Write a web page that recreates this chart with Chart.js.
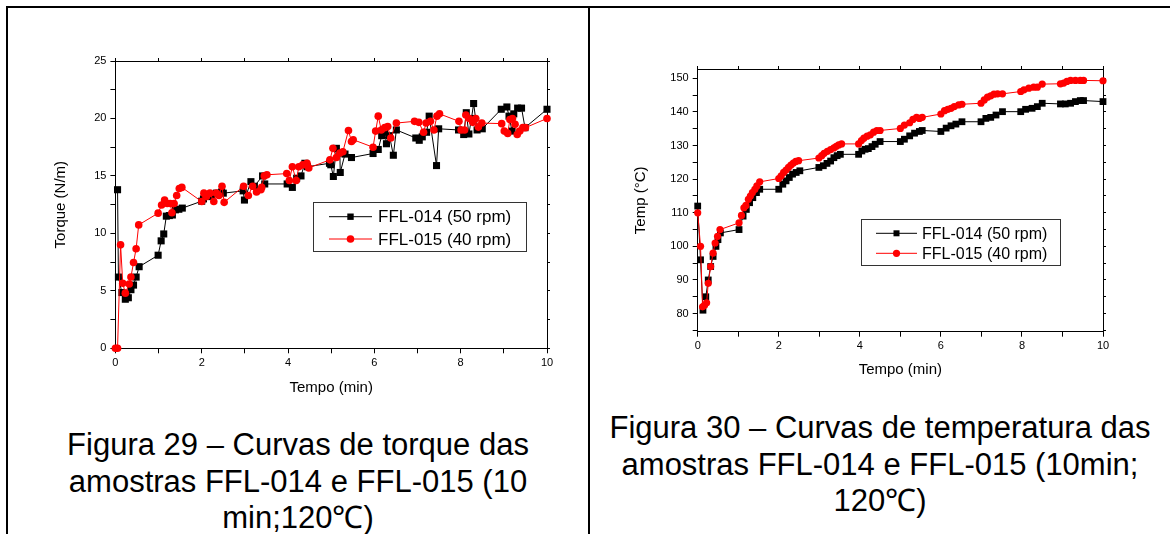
<!DOCTYPE html>
<html>
<head>
<meta charset="utf-8">
<script src="https://cdn.jsdelivr.net/npm/chart.js@4.4.0/dist/chart.umd.min.js"></script>
<style>
  body { margin: 0; background: #fff; width: 1170px; height: 534px; overflow: hidden; position: relative;
         font-family: Arial, "Liberation Sans", sans-serif; color: #000; }
  canvas { position: absolute; }
  .rule { position: absolute; background: #000; z-index: 5; }
  .cap { position: absolute; text-align: center; font-size: 31px; line-height: 36.5px; }
</style>
</head>
<body>
<canvas id="torque" width="588" height="420" style="left:0;top:0;width:588px;height:420px"></canvas>
<canvas id="temp" width="580" height="400" style="left:590px;top:0;width:580px;height:400px"></canvas>

<div class="rule" style="left:6px;top:6px;width:1164px;height:2px"></div>
<div class="rule" style="left:6px;top:6px;width:2px;height:528px"></div>
<div class="rule" style="left:588px;top:6px;width:2px;height:528px"></div>

<div class="cap" style="left:8px;width:580px;top:427px">Figura 29 – Curvas de torque das<br>amostras FFL-014 e FFL-015 (10<br>min;120℃)</div>
<div class="cap" style="left:590px;width:580px;top:410px">Figura 30 – Curvas de temperatura das<br>amostras FFL-014 e FFL-015 (10min;<br>120℃)</div>

<script>
// series labels
const seriesLabels = ['FFL-014 (50 rpm)', 'FFL-015 (40 rpm)'];

// Figura 29 - torque (N/m) vs tempo (min)
const torqueTime014 = [0.05, 0.07, 0.15, 0.23, 0.3, 0.36, 0.42, 0.48, 0.55, 0.99, 1.06, 1.12, 1.18, 1.25, 1.32, 1.39, 1.47, 1.55,
  2.0, 2.04, 2.11, 2.23, 2.34, 2.46, 2.5, 2.96, 2.99, 3.14, 3.22, 3.41, 3.46, 3.98, 4.1, 4.2, 4.3, 4.39, 4.45, 4.96, 4.99,
  5.05, 5.12, 5.2, 5.21, 5.32, 5.47, 5.97, 6.09, 6.17, 6.24, 6.28, 6.35, 6.44, 6.51, 6.96, 7.04, 7.11, 7.21, 7.27, 7.44, 7.49,
  7.95, 8.07, 8.13, 8.19, 8.25, 8.3, 8.38, 8.5, 8.94, 9.07, 9.12, 9.19, 9.23, 9.32, 9.41, 9.49, 10.0];
const torque014 = [13.8, 6.2, 4.85, 4.27, 4.4, 5.1, 5.5, 6.2, 7.1, 8.1, 9.35, 9.95, 11.5, 11.55, 11.6, 12.05, 12.1, 12.2,
  12.8, 13.0, 13.3, 13.2, 13.5, 13.6, 13.5, 13.7, 12.9, 14.5, 14.1, 15.0, 14.3, 14.3, 14.0, 14.8, 15.0, 16.1, 15.8, 16.1, 15.97,
  14.95, 17.4, 17.0, 15.3, 16.9, 16.6, 16.95, 17.3, 18.5, 18.8, 17.8, 18.5, 16.8, 19.0, 18.3, 18.1, 18.4, 18.8, 20.2, 15.9, 19.1,
  19.0, 18.6, 20.5, 18.65, 20.0, 21.3, 19.0, 19.1, 20.8, 21.0, 20.2, 18.9, 20.4, 20.9, 20.9, 19.2, 20.8];

const torqueTime015 = [0, 0.05, 0.12, 0.17, 0.23, 0.32, 0.36, 0.42, 0.48, 0.54, 0.99, 1.07, 1.14, 1.2, 1.27, 1.31, 1.36, 1.42, 1.48, 1.54,
  2.0, 2.05, 2.11, 2.19, 2.28, 2.34, 2.4, 2.47, 2.52, 2.97, 3.08, 3.18, 3.27, 3.37, 3.39, 3.45, 3.51, 3.97, 4.03, 4.1, 4.19, 4.25,
  4.34, 4.44, 4.48, 4.97, 5.04, 5.12, 5.2, 5.27, 5.4, 5.47, 5.51, 5.97, 6.03, 6.09, 6.16, 6.24, 6.31, 6.38, 6.51, 6.93, 7.03,
  7.14, 7.2, 7.3, 7.38, 7.45, 7.51, 7.96, 8.01, 8.09, 8.12, 8.2, 8.28, 8.35, 8.41, 8.49, 8.95, 9.01, 9.09, 9.14, 9.2, 9.26,
  9.31, 9.37, 9.44, 9.5, 10.0];
const torque015 = [0, 0, 9.0, 5.66, 4.8, 5.6, 6.2, 7.46, 8.66, 10.74, 11.76, 12.47, 12.9, 12.6, 12.6, 11.8, 12.6, 13.3, 13.9, 14.0,
  12.77, 13.5, 13.2, 13.5, 12.77, 13.5, 13.3, 14.1, 12.7, 14.1, 13.3, 14.1, 13.6, 13.8, 14.0, 15.0, 15.1, 15.2, 14.6, 15.8, 14.6, 15.8,
  15.96, 16.1, 15.7, 16.4, 17.4, 16.6, 17.0, 17.1, 18.95, 18.0, 18.15, 17.5, 18.9, 20.2, 19.0, 19.2, 19.3, 18.3, 19.6, 19.75, 19.66,
  18.8, 19.6, 19.75, 19.0, 20.2, 20.4, 19.75, 19.0, 19.0, 20.3, 20.0, 19.66, 20.0, 19.25, 19.6, 19.55, 18.9, 18.7, 19.9, 20.0, 19.5,
  18.6, 18.9, 19.2, 19.2, 20.0];

// Figura 30 - temperatura (°C) vs tempo (min)
const tempTime014 = [0, 0.07, 0.13, 0.2, 0.26, 0.32, 0.38, 0.45, 0.5, 0.56, 1.02, 1.12, 1.2, 1.28, 1.36, 1.45, 1.53,
  2.0, 2.1, 2.18, 2.26, 2.34, 2.43, 2.52, 2.99, 3.1, 3.19, 3.28, 3.36, 3.44, 3.52, 3.97, 4.05, 4.13, 4.21, 4.3, 4.38, 4.5,
  5.0, 5.1, 5.23, 5.35, 5.47, 5.54, 6.0, 6.13, 6.25, 6.37, 6.52, 6.99, 7.11, 7.23, 7.36, 7.52, 7.97, 8.09, 8.25, 8.38, 8.5,
  8.95, 9.07, 9.2, 9.32, 9.44, 9.52, 10.0];
const temp014 = [112, 96, 81, 85, 90, 94, 97, 100, 102, 104, 105, 109, 111, 113, 114.5, 116, 117,
  117, 118.5, 119.5, 120.5, 121.5, 122, 122.5, 123.5, 124, 124.7, 125.4, 126.4, 127, 127.4, 127.4, 128.4, 128.9, 129.1, 129.7, 130.4, 131.2,
  131.2, 131.9, 132.9, 133.7, 134.2, 134.5, 134.2, 135.2, 135.9, 136.4, 137.1, 137.1, 138.1, 138.4, 139.1, 140.1, 140.1, 140.8, 141.1, 141.6, 142.6,
  142.4, 142.4, 142.6, 143.1, 143.4, 143.4, 143.1];

const tempTime015 = [0, 0.07, 0.12, 0.17, 0.22, 0.26, 0.32, 0.38, 0.43, 0.49, 0.55, 1.02, 1.08, 1.14, 1.19, 1.25, 1.3, 1.35, 1.41, 1.46, 1.53,
  2.0, 2.06, 2.12, 2.18, 2.24, 2.3, 2.36, 2.42, 2.49, 2.99, 3.06, 3.12, 3.2, 3.28, 3.36, 3.42, 3.48, 3.55, 3.97, 4.04, 4.1, 4.18, 4.26,
  4.34, 4.42, 4.5, 5.0, 5.1, 5.23, 5.31, 5.4, 5.47, 5.54, 6.0, 6.09, 6.17, 6.25, 6.33, 6.44, 6.52, 6.99, 7.07, 7.15, 7.23, 7.31,
  7.4, 7.52, 7.97, 8.05, 8.17, 8.29, 8.38, 8.5, 8.95, 9.03, 9.11, 9.2, 9.32, 9.44, 9.52, 10.0];
const temp015 = [110, 100, 82, 82.5, 83.2, 89, 94, 98, 101, 103, 105, 107, 109.2, 111.5, 112.2, 114, 115, 116, 117, 118, 119.2,
  120.2, 121, 122, 122.7, 123.5, 124.2, 124.8, 125.3, 125.5, 126.3, 127, 127.7, 128.3, 128.8, 129.3, 129.8, 130.2, 130.5, 130.5, 131.5, 132.2, 132.8, 133.2,
  134, 134.5, 134.5, 135.1, 136.1, 136.8, 137.8, 138.4, 138.1, 138.4, 139.4, 140.4, 140.8, 141.1, 141.6, 142.1, 142.3, 142.6, 143.6, 144.4, 144.8, 145.3,
  145.4, 145.4, 146.1, 146.6, 147.1, 147.4, 147.4, 148.3, 148.4, 148.6, 149.1, 149.4, 149.4, 149.4, 149.4, 149.3];

Chart.defaults.font.family = 'Arial, "Liberation Sans", sans-serif';
Chart.defaults.color = '#000';

const pairs = (xs, ys) => xs.map((x, i) => ({ x: x, y: ys[i] }));

// legend drawn as a framed box inside the plot, like the original figure
const boxLegend = {
  id: 'boxLegend',
  afterDatasetsDraw(chart, args, o) {
    const ctx = chart.ctx;
    ctx.save();
    ctx.fillStyle = '#fff';
    ctx.fillRect(o.x, o.y, o.w, o.h);
    ctx.strokeStyle = '#333';
    ctx.lineWidth = 1;
    ctx.strokeRect(o.x + 0.5, o.y + 0.5, o.w, o.h);
    ctx.font = o.fontSize + 'px Arial, "Liberation Sans", sans-serif';
    ctx.textBaseline = 'middle';
    chart.data.datasets.forEach((ds, i) => {
      const cy = o.y + o.rows[i];
      const mx = (o.lineFrom + o.lineTo) / 2;
      ctx.strokeStyle = ds.borderColor;
      ctx.beginPath();
      ctx.moveTo(o.lineFrom, cy);
      ctx.lineTo(o.lineTo, cy);
      ctx.stroke();
      ctx.fillStyle = ds.backgroundColor;
      ctx.beginPath();
      if (ds.pointStyle === 'rect') ctx.rect(mx - o.mark, cy - o.mark, o.mark * 2, o.mark * 2);
      else ctx.arc(mx, cy, o.mark + 0.6, 0, Math.PI * 2);
      ctx.fill();
      ctx.fillStyle = '#000';
      ctx.fillText(ds.label, o.textX, cy + 1);
    });
    ctx.restore();
  }
};

function framedScales(s) {
  const tickFont = { size: s.tickSize };
  const grid = { display: true, drawOnChartArea: false, drawTicks: true, tickLength: 5, color: '#000', lineWidth: 1 };
  const sideGrid = { display: true, drawOnChartArea: false, drawTicks: true, tickLength: 3, color: '#000', lineWidth: 1 };
  const border = { display: true, color: '#000', width: 1 };
  const xTicks = { stepSize: s.xStep, autoSkip: false, maxRotation: 0, includeBounds: false, maxTicksLimit: 100 };
  const yTicks = { stepSize: s.yStep, autoSkip: false, includeBounds: false, maxTicksLimit: 100 };
  return {
    x: {
      type: 'linear', position: 'bottom', min: s.xMin, max: s.xMax, grid: grid, border: border,
      ticks: Object.assign({}, xTicks, { font: tickFont, padding: 3, callback: v => (v % s.xMajor === 0 ? v : '') }),
      title: { display: true, text: s.xTitle, font: { size: s.titleSize }, padding: { top: 0, bottom: s.xTitlePad } },
      afterFit: a => { a.height = s.bottomH; }
    },
    x2: {
      type: 'linear', position: 'top', min: s.xMin, max: s.xMax, grid: sideGrid, border: border,
      ticks: Object.assign({}, xTicks, { display: false }),
      afterFit: a => { a.height = 4; }
    },
    y: {
      type: 'linear', position: 'left', min: s.yMin, max: s.yMax, grid: grid, border: border,
      ticks: Object.assign({}, yTicks, { font: tickFont, padding: 4, callback: v => (v % s.yMajor === 0 ? v : '') }),
      title: { display: true, text: s.yTitle, font: { size: s.titleSize }, padding: { top: 0, bottom: 0 } },
      afterFit: a => { a.width = s.leftW; }
    },
    y2: {
      type: 'linear', position: 'right', min: s.yMin, max: s.yMax, grid: sideGrid, border: border,
      ticks: Object.assign({}, yTicks, { display: false }),
      afterFit: a => { a.width = 4; }
    }
  };
}

function series(label, pts, color, style, radius) {
  return {
    label: label, data: pts, borderColor: color, backgroundColor: color, borderWidth: 1,
    pointStyle: style, pointRadius: radius, pointBorderWidth: 0, pointHoverRadius: radius,
    tension: 0, clip: false, order: style === 'circle' ? 0 : 1
  };
}

new Chart(document.getElementById('torque'), {
  type: 'line',
  data: {
    datasets: [
      series(seriesLabels[0], pairs(torqueTime014, torque014), '#000000', 'rect', 5),
      series(seriesLabels[1], pairs(torqueTime015, torque015), '#ff0000', 'circle', 3.8)
    ]
  },
  options: {
    responsive: false, animation: false, devicePixelRatio: 1,
    layout: { padding: { left: 51.4, right: 37, top: 57, bottom: 21.7 } },
    scales: framedScales({
      xMin: 0, xMax: 10, xStep: 1, xMajor: 2, yMin: 0, yMax: 25, yStep: 2.5, yMajor: 5,
      xTitle: 'Tempo (min)', yTitle: 'Torque (N/m)', tickSize: 11, titleSize: 15,
      leftW: 64, bottomH: 50, xTitlePad: 1
    }),
    plugins: {
      legend: { display: false }, tooltip: { enabled: false },
      boxLegend: { x: 313, y: 202, w: 213, h: 49, rows: [14.7, 37], lineFrom: 329, lineTo: 372, mark: 3.2, textX: 378, fontSize: 17 }
    }
  },
  plugins: [boxLegend]
});

new Chart(document.getElementById('temp'), {
  type: 'line',
  data: {
    datasets: [
      series(seriesLabels[0], pairs(tempTime014, temp014), '#000000', 'rect', 4.8),
      series(seriesLabels[1], pairs(tempTime015, temp015), '#ff0000', 'circle', 3.6)
    ]
  },
  options: {
    responsive: false, animation: false, devicePixelRatio: 1,
    layout: { padding: { left: 41.7, right: 63, top: 65, bottom: 20.3 } },
    scales: framedScales({
      xMin: 0, xMax: 10, xStep: 1, xMajor: 2, yMin: 74.6, yMax: 152.8, yStep: 5, yMajor: 10,
      xTitle: 'Tempo (min)', yTitle: 'Temp (°C)', tickSize: 11, titleSize: 15,
      leftW: 66, bottomH: 48, xTitlePad: 1
    }),
    plugins: {
      legend: { display: false }, tooltip: { enabled: false },
      boxLegend: { x: 271, y: 219, w: 199, h: 46, rows: [14.3, 34.3], lineFrom: 286, lineTo: 327, mark: 3, textX: 332, fontSize: 16 }
    }
  },
  plugins: [boxLegend]
});
</script>
</body>
</html>
